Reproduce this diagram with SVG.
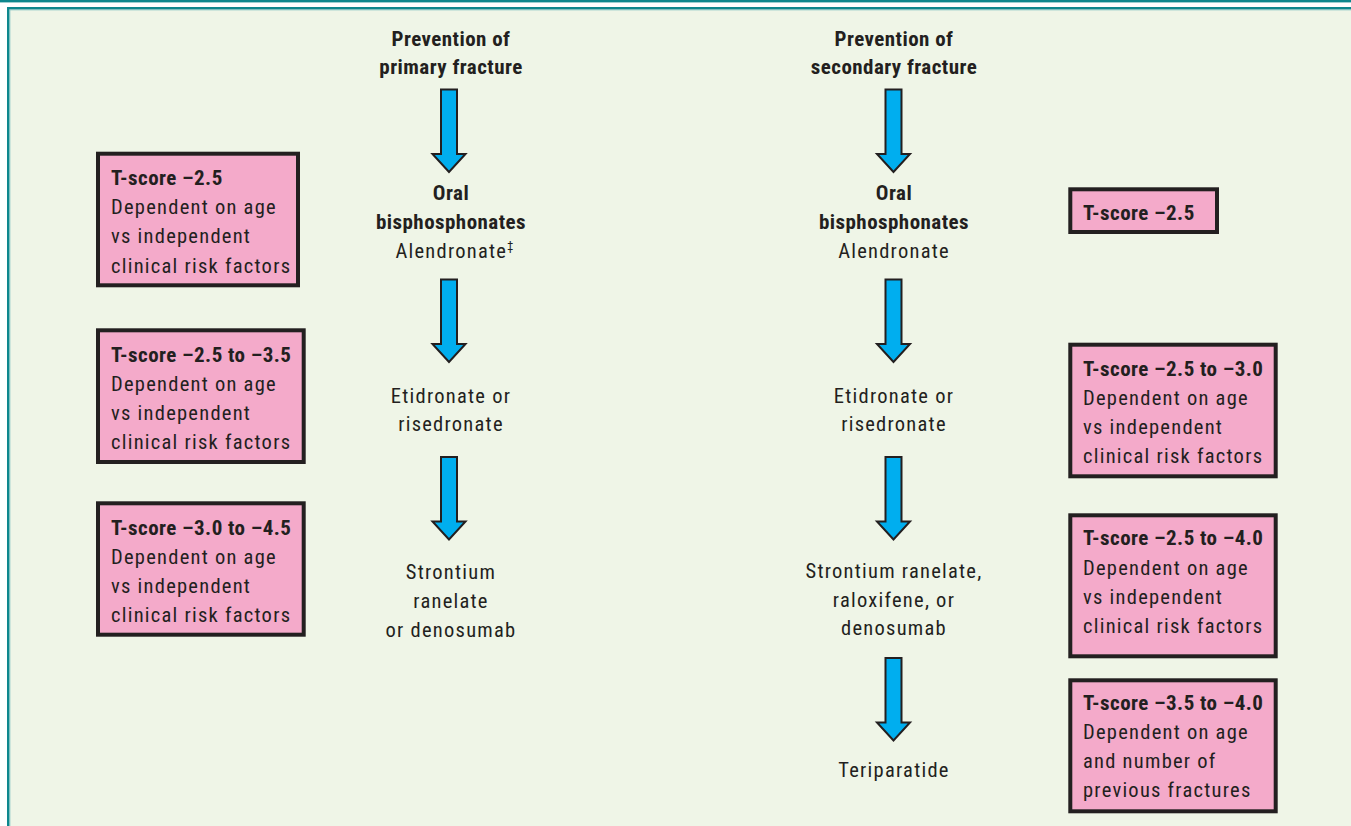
<svg xmlns="http://www.w3.org/2000/svg" width="1351" height="826" viewBox="0 0 1351 826">
<defs>
<style>
.bg{fill:#EFF5E7}
.teal{fill:#0D878D}
.box{fill:#F4AACA;stroke:#231F20;stroke-width:4}
.arr{fill:#00AEEF;stroke:#231F20;stroke-width:2;stroke-linejoin:miter}
text{font-family:"Liberation Sans Narrow","Arial Narrow","Roboto Condensed",Roboto,sans-serif;font-size:20.5px;fill:#231F20;letter-spacing:1.25px}
.b{font-weight:bold;font-size:21px;letter-spacing:0.45px}
.c{text-anchor:middle}
</style>
<path id="arrowShape" d="M-8,0 H8 V64.5 H16.5 L0,82.5 L-16.5,64.5 H-8 Z"/>
</defs>
<rect x="0" y="0" width="1351" height="826" fill="#FFFFFF"/>
<rect class="teal" x="0" y="0" width="1351" height="2.4"/>
<rect class="bg" x="9.5" y="9.5" width="1341.5" height="816.5"/>
<rect class="teal" x="7" y="7" width="1344" height="2.5"/>
<rect class="teal" x="7" y="7" width="2.5" height="819"/>
<rect x="9.5" y="9.5" width="1341.5" height="0.8" fill="#7FBFBF"/>
<rect x="9.5" y="9.5" width="0.8" height="816.5" fill="#7FBFBF"/>

<g id="connectors">
<use href="#arrowShape" class="arr" x="449" y="89.5"/>
<use href="#arrowShape" class="arr" x="449" y="279.5"/>
<use href="#arrowShape" class="arr" x="449" y="457"/>
<use href="#arrowShape" class="arr" x="893.5" y="89.5"/>
<use href="#arrowShape" class="arr" x="893.5" y="279.5"/>
<use href="#arrowShape" class="arr" x="893.5" y="457"/>
<use href="#arrowShape" class="arr" x="893.5" y="658"/>
</g>

<g id="primary-title">
<text class="b c" x="451" y="46">Prevention of</text>
<text class="b c" x="451" y="74">primary fracture</text>
</g>
<g id="primary-oral">
<text class="b c" x="451" y="200">Oral</text>
<text class="b c" x="451" y="229">bisphosphonates</text>
<text class="c" x="455" y="258">Alendronate<tspan font-size="12" dy="-8">‡</tspan></text>
</g>
<g id="primary-etidronate">
<text class="c" x="451" y="403">Etidronate or</text>
<text class="c" x="451" y="431">risedronate</text>
</g>
<g id="primary-strontium">
<text class="c" x="451" y="579">Strontium</text>
<text class="c" x="451" y="608">ranelate</text>
<text class="c" x="451" y="637">or denosumab</text>
</g>

<g id="secondary-title">
<text class="b c" x="894" y="46">Prevention of</text>
<text class="b c" x="894" y="74">secondary fracture</text>
</g>
<g id="secondary-oral">
<text class="b c" x="894" y="200">Oral</text>
<text class="b c" x="894" y="229">bisphosphonates</text>
<text class="c" x="894" y="258">Alendronate</text>
</g>
<g id="secondary-etidronate">
<text class="c" x="894" y="403">Etidronate or</text>
<text class="c" x="894" y="431">risedronate</text>
</g>
<g id="secondary-strontium">
<text class="c" x="894" y="578">Strontium ranelate,</text>
<text class="c" x="894" y="607">raloxifene, or</text>
<text class="c" x="894" y="635">denosumab</text>
</g>
<g id="secondary-teriparatide">
<text class="c" x="894" y="777">Teriparatide</text>
</g>

<g id="left-box-1">
<rect class="box" x="98" y="153.7" width="200" height="131.6"/>
<text class="b" x="111" y="185">T-score –2.5</text>
<text x="111" y="214">Dependent on age</text>
<text x="111" y="243">vs independent</text>
<text x="111" y="272.5">clinical risk factors</text>
</g>
<g id="left-box-2">
<rect class="box" x="98" y="330.3" width="205.7" height="131.7"/>
<text class="b" x="111" y="361.5">T-score –2.5 to –3.5</text>
<text x="111" y="390.5">Dependent on age</text>
<text x="111" y="419.5">vs independent</text>
<text x="111" y="448.5">clinical risk factors</text>
</g>
<g id="left-box-3">
<rect class="box" x="98" y="503.3" width="205.7" height="131.4"/>
<text class="b" x="111" y="535">T-score –3.0 to –4.5</text>
<text x="111" y="564">Dependent on age</text>
<text x="111" y="593">vs independent</text>
<text x="111" y="622">clinical risk factors</text>
</g>

<g id="right-box-1">
<rect class="box" x="1070.3" y="189.3" width="146.7" height="42.7"/>
<text class="b" x="1083" y="220">T-score –2.5</text>
</g>
<g id="right-box-2">
<rect class="box" x="1070.3" y="344.7" width="205.4" height="131.6"/>
<text class="b" x="1083" y="376">T-score –2.5 to –3.0</text>
<text x="1083" y="405">Dependent on age</text>
<text x="1083" y="434">vs independent</text>
<text x="1083" y="463">clinical risk factors</text>
</g>
<g id="right-box-3">
<rect class="box" x="1070.3" y="515.3" width="205.4" height="141"/>
<text class="b" x="1083" y="545">T-score –2.5 to –4.0</text>
<text x="1083" y="574.5">Dependent on age</text>
<text x="1083" y="603.5">vs independent</text>
<text x="1083" y="632.5">clinical risk factors</text>
</g>
<g id="right-box-4">
<rect class="box" x="1070.3" y="680.3" width="205.4" height="131"/>
<text class="b" x="1083" y="710">T-score –3.5 to –4.0</text>
<text x="1083" y="739">Dependent on age</text>
<text x="1083" y="768">and number of</text>
<text x="1083" y="797">previous fractures</text>
</g>
</svg>
